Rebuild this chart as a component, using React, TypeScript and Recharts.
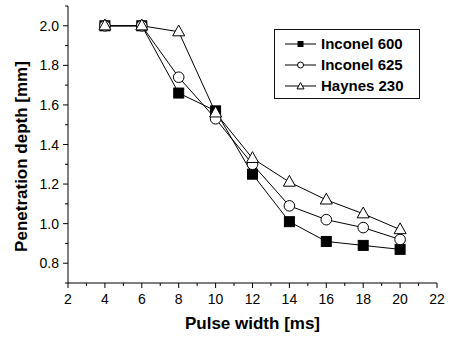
import { LineChart, Line, XAxis, YAxis, Legend } from "recharts";

const pulseWidth = [4, 6, 8, 10, 12, 14, 16, 18, 20];
const inconel600 = [2.0, 2.0, 1.66, 1.57, 1.25, 1.01, 0.91, 0.89, 0.87];
const inconel625 = [2.0, 2.0, 1.74, 1.53, 1.3, 1.09, 1.02, 0.98, 0.92];
const haynes230 = [2.0, 2.0, 1.97, 1.56, 1.33, 1.21, 1.12, 1.05, 0.97];

const xTicks = [2, 3, 4, 5, 6, 7, 8, 9, 10, 11, 12, 13, 14, 15, 16, 17, 18, 19, 20, 21, 22];
const yTicks = [0.7, 0.8, 0.9, 1.0, 1.1, 1.2, 1.3, 1.4, 1.5, 1.6, 1.7, 1.8, 1.9, 2.0, 2.1];
const yLabeled = [0.8, 1.0, 1.2, 1.4, 1.6, 1.8, 2.0];

const FONT = "'Liberation Sans', Arial, sans-serif";

const rows = pulseWidth.map((x, i) => ({
  x,
  i600: inconel600[i],
  i625: inconel625[i],
  h230: haynes230[i],
}));

function XTick(props: any) {
  const { x, y, payload } = props;
  const v = payload.value;
  const major = v % 2 === 0;
  return (
    <g>
      <line x1={x} y1={y} x2={x} y2={y + (major ? 5 : 3)} stroke="#000" strokeWidth={1} />
      {major && (
        <text x={x} y={y + 21} textAnchor="middle" fontSize={14} fontFamily={FONT} fill="#000">
          {v}
        </text>
      )}
    </g>
  );
}

function YTick(props: any) {
  const { x, y, payload } = props;
  const v = payload.value;
  const major = yLabeled.some((m) => Math.abs(m - v) < 1e-6);
  return (
    <g>
      <line x1={x} y1={y} x2={x - (major ? 5 : 3)} y2={y} stroke="#000" strokeWidth={1} />
      {major && (
        <text x={x - 9} y={y + 5} textAnchor="end" fontSize={14} fontFamily={FONT} fill="#000">
          {v.toFixed(1)}
        </text>
      )}
    </g>
  );
}

function YTitle(props: any) {
  const vb = props.viewBox || {};
  const cy = (vb.y ?? 6) + (vb.height ?? 277) / 2 + 12;
  return (
    <text
      x={21}
      y={cy}
      transform={`rotate(-90 21 ${cy})`}
      textAnchor="middle"
      dominantBaseline="central"
      fontFamily={FONT}
      fontWeight="bold"
      fontSize={17}
      fill="#000"
    >
      Penetration depth [mm]
    </text>
  );
}

function Square({ cx, cy, s = 10 }: any) {
  return <rect x={cx - s / 2} y={cy - s / 2} width={s} height={s} fill="#000" stroke="#000" />;
}
function Circle({ cx, cy, r = 5.3 }: any) {
  return <circle cx={cx} cy={cy} r={r} fill="#fff" stroke="#000" strokeWidth={1} />;
}
function Triangle({ cx, cy, s = 12 }: any) {
  const h = s * 0.9;
  const pts = `${cx},${cy - h * 0.62} ${cx - s / 2},${cy + h * 0.38} ${cx + s / 2},${cy + h * 0.38}`;
  return <polygon points={pts} fill="#fff" stroke="#000" strokeWidth={1} />;
}

const legendItems = [
  { name: "Inconel 600", shape: "square" },
  { name: "Inconel 625", shape: "circle" },
  { name: "Haynes 230", shape: "triangle" },
];

function LegendBox() {
  return (
    <div
      style={{
        width: 144,
        height: 65,
        border: "1.5px solid #111",
        background: "#fff",
        fontFamily: FONT,
        fontWeight: "bold",
        fontSize: 15,
        boxSizing: "content-box",
        paddingTop: 3,
      }}
    >
      {legendItems.map((it) => (
        <div key={it.name} style={{ display: "flex", alignItems: "center", height: 21 }}>
          <svg width={46} height={14} style={{ display: "block" }}>
            <line x1={10} y1={7} x2={41} y2={7} stroke="#000" strokeWidth={1} />
            {it.shape === "square" && <Square cx={25.5} cy={7} s={5} />}
            {it.shape === "circle" && <Circle cx={25.5} cy={7} r={3} />}
            {it.shape === "triangle" && <Triangle cx={25.5} cy={7.5} s={7} />}
          </svg>
          <span style={{ color: "#000" }}>{it.name}</span>
        </div>
      ))}
    </div>
  );
}

export default function App() {
  return (
    <div style={{ position: "absolute", left: 0, top: 0, width: 450, height: 337, background: "#fff" }}>
      <LineChart width={450} height={337} data={rows} margin={{ top: 6, right: 13, left: 0, bottom: 0 }}>
        <XAxis
          dataKey="x"
          type="number"
          domain={[2, 22]}
          ticks={xTicks}
          interval={0}
          tickLine={false}
          tickSize={0}
          tickMargin={0}
          tick={<XTick />}
          height={54}
          stroke="#000"
          label={{
            value: "Pulse width [ms]",
            position: "insideBottom",
            offset: 8,
            style: { fontFamily: FONT, fontWeight: "bold", fontSize: 17, fill: "#000" },
          }}
        />
        <YAxis
          type="number"
          domain={[0.7, 2.1]}
          ticks={yTicks}
          interval={0}
          allowDataOverflow
          tickLine={false}
          tickSize={0}
          tickMargin={0}
          tick={<YTick />}
          width={68}
          stroke="#000"
          label={<YTitle />}
        />
        <Legend
          layout="vertical"
          align="center"
          verticalAlign="middle"
          wrapperStyle={{ left: 274, top: 29, width: 147 }}
          content={() => <LegendBox />}
        />
        <Line
          dataKey="i600"
          name="Inconel 600"
          stroke="#000"
          strokeWidth={1}
          isAnimationActive={false}
          dot={(p: any) => <Square key={`a${p.index}`} cx={p.cx} cy={p.cy} />}
        />
        <Line
          dataKey="i625"
          name="Inconel 625"
          stroke="#000"
          strokeWidth={1}
          isAnimationActive={false}
          dot={(p: any) => <Circle key={`b${p.index}`} cx={p.cx} cy={p.cy} />}
        />
        <Line
          dataKey="h230"
          name="Haynes 230"
          stroke="#000"
          strokeWidth={1}
          isAnimationActive={false}
          dot={(p: any) => <Triangle key={`c${p.index}`} cx={p.cx} cy={p.cy} />}
        />
      </LineChart>
    </div>
  );
}
